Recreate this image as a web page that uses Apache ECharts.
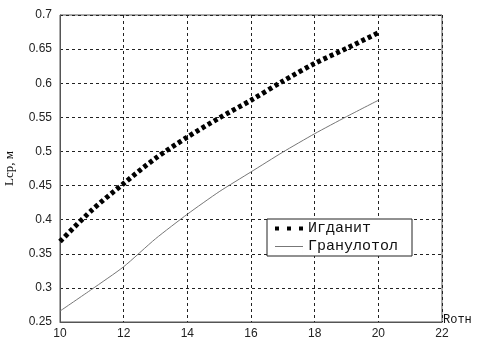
<!DOCTYPE html>
<html>
<head>
<meta charset="utf-8">
<script src="https://cdn.jsdelivr.net/npm/echarts@6/dist/echarts.min.js"></script>
<style>
  html, body { margin: 0; padding: 0; background: #fff; }
  #chart { width: 483px; height: 342px; }
</style>
</head>
<body>
<div id="chart"></div>
<script>
var xValues = [10, 11, 12, 13, 14, 15, 16, 17, 18, 19, 20]
var igdanit = [0.368, 0.414, 0.453, 0.490, 0.521, 0.549, 0.575, 0.603, 0.629, 0.651, 0.674]
var granulotol = [0.266, 0.298, 0.331, 0.372, 0.408, 0.441, 0.470, 0.499, 0.526, 0.551, 0.575]
var seriesNames = ['Игданит', 'Гранулотол']

function pairs(ys) {
  return xValues.map(function (x, i) { return [x, ys[i]] })
}

var chart = echarts.init(document.getElementById('chart'))
var gridLine = { show: true, lineStyle: { color: '#222', type: [3, 3], width: 1 } }

var option = {
  animation: false,
  backgroundColor: '#fff',
  grid: {
    left: 60, right: 41, top: 15, bottom: 20,
    outerBoundsMode: 'none',
    containLabel: false,
    show: true, borderColor: '#555', borderWidth: 1
  },
  legend: {
    left: 267, top: 219,
    orient: 'vertical',
    itemGap: 3,
    itemWidth: 28, itemHeight: 14,
    padding: [2, 14, 2, 8],
    borderColor: '#222', borderWidth: 1, borderRadius: 0,
    backgroundColor: '#fff',
    textStyle: { fontFamily: 'Liberation Mono', fontSize: 15, color: '#111' },
    data: [
      { name: seriesNames[0], icon: 'path://M0,5h4v4h-4z M12,5h4v4h-4z M24,5h4v4h-4z M0,0h0.01v14h-0.01z M27.99,0h0.01v14h-0.01z' },
      { name: seriesNames[1], icon: 'path://M0,6.5h28v1h-28z M0,0h0.01v14h-0.01z M27.99,0h0.01v14h-0.01z' }
    ]
  },
  xAxis: {
    type: 'value',
    min: 10, max: 22, interval: 2,
    name: 'Rотн',
    nameLocation: 'end',
    nameGap: 1,
    nameTextStyle: { fontFamily: 'Liberation Mono', fontSize: 12, color: '#111', align: 'left', verticalAlign: 'bottom', padding: [0, 0, -4, 0] },
    axisLine: { lineStyle: { color: '#555' } },
    axisTick: { show: false },
    axisLabel: { fontFamily: 'Liberation Sans', fontSize: 12, color: '#222', margin: 6 },
    splitLine: gridLine
  },
  yAxis: {
    type: 'value',
    min: 0.25, max: 0.7, interval: 0.05,
    name: 'Lср, м',
    nameLocation: 'middle',
    nameGap: 44,
    nameTextStyle: { fontFamily: 'Liberation Serif', fontSize: 13, color: '#111' },
    axisLine: { show: true, lineStyle: { color: '#555' } },
    axisTick: { show: false },
    axisLabel: {
      fontFamily: 'Liberation Sans', fontSize: 12, color: '#222', margin: 8,
      formatter: function (v) { return String(+v.toFixed(2)) }
    },
    splitLine: gridLine
  },
  series: [
    {
      name: seriesNames[0],
      type: 'line',
      data: pairs(igdanit),
      smooth: 0.3,
      symbol: 'none',
      lineStyle: { color: '#000', width: 5, type: [4, 3], cap: 'butt' },
      itemStyle: { color: '#000' }
    },
    {
      name: seriesNames[1],
      type: 'line',
      data: pairs(granulotol),
      smooth: 0.2,
      symbol: 'none',
      lineStyle: { color: '#777', width: 1 },
      itemStyle: { color: '#777' }
    }
  ]
}

chart.setOption(option)
</script>
</body>
</html>
